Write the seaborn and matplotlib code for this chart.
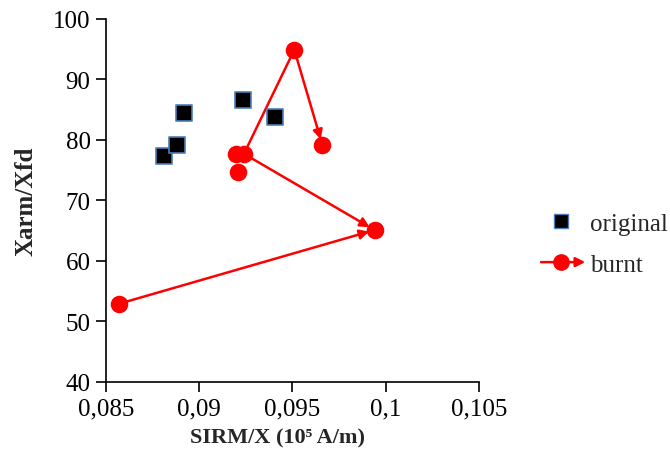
import matplotlib
matplotlib.use('Agg')
import matplotlib.pyplot as plt
import seaborn as sns
import pandas as pd
from matplotlib.lines import Line2D
from matplotlib.patches import FancyArrowPatch
from matplotlib.legend_handler import HandlerBase

# data
orig_x = [0.08811, 0.08881, 0.08918, 0.09234, 0.09406]
orig_y = [77.4, 79.2, 84.5, 86.6, 83.8]

burnt_x = [0.0857, 0.0994, 0.0924, 0.0951, 0.0966, 0.0920, 0.0921]
burnt_y = [52.9, 65.1, 77.7, 94.9, 79.2, 77.7, 74.7]
# arrows between burnt points (index from -> index to)
burnt_arrows = [(0, 1), (2, 1), (2, 3), (3, 4)]
arrow_heads = [True, True, False, True]

x_ticks = [0.085, 0.09, 0.095, 0.1, 0.105]
x_tick_labels = ['0,085', '0,09', '0,095', '0,1', '0,105']
y_ticks = [40, 50, 60, 70, 80, 90, 100]

red = '#ff0000'


class ArrowLineHandler(HandlerBase):
    """legend entry: red line, circle marker, arrow head at the right end"""
    def create_artists(self, legend, orig_handle, xdescent, ydescent,
                       width, height, fontsize, trans):
        y = height / 2 - ydescent
        arrow = FancyArrowPatch((-xdescent, y), (width - xdescent + 3, y),
                                arrowstyle='-|>', mutation_scale=14, color=red,
                                lw=1.8, shrinkA=0, shrinkB=0, transform=trans)
        dot = Line2D([width / 2 - xdescent], [y], marker='o', color=red,
                     markersize=11, lw=0, transform=trans)
        return [arrow, dot]


sns.set_style('white')
plt.rcParams['font.family'] = ['Liberation Serif', 'DejaVu Serif']

fig = plt.figure(figsize=(6.7, 4.64), dpi=100)
ax = fig.add_axes([0.158, 0.175, 0.557, 0.782])

df_orig = pd.DataFrame({'x': orig_x, 'y': orig_y})
df_burnt = pd.DataFrame({'x': burnt_x, 'y': burnt_y})

for (i, j), head in zip(burnt_arrows, arrow_heads):
    ax.annotate('', xy=(burnt_x[j], burnt_y[j]), xytext=(burnt_x[i], burnt_y[i]),
                arrowprops=dict(arrowstyle='-|>' if head else '-', color=red, lw=1.8,
                                mutation_scale=14, shrinkA=0, shrinkB=4))

sns.scatterplot(data=df_burnt, x='x', y='y', ax=ax, marker='o', s=160,
                color=red, edgecolor=red, linewidth=0, zorder=3)
sns.scatterplot(data=df_orig, x='x', y='y', ax=ax, marker='s', s=125,
                color='black', edgecolor='#4a7ebb', linewidth=1.2, zorder=4)

ax.set_xlim(0.085, 0.105)
ax.set_ylim(40, 100)
ax.set_xticks(x_ticks)
ax.set_xticklabels(x_tick_labels)
ax.set_yticks(y_ticks)
ax.tick_params(axis='both', labelsize=18, direction='out', length=7, width=1.2,
               colors='black', bottom=True, left=True, pad=4)
for side in ['top', 'right']:
    ax.spines[side].set_visible(False)
for side in ['left', 'bottom']:
    ax.spines[side].set_color('black')
    ax.spines[side].set_linewidth(1.2)

ax.set_xlabel('SIRM/X (10\u2075 A/m)', fontsize=16, fontweight='bold', labelpad=6)
ax.xaxis.label.set_x(0.46)
ax.set_ylabel('Xarm/Xfd', fontsize=18, fontweight='bold', labelpad=11)

handles = [
    Line2D([], [], marker='s', color='none', markerfacecolor='black',
           markeredgecolor='#4a7ebb', markersize=10),
    Line2D([], [], color=red),
]
fig.legend(handles, ['original', 'burnt'], loc='center left',
           bbox_to_anchor=(0.774, 0.472), frameon=False, fontsize=18,
           handlelength=1.6, labelspacing=0.75, handletextpad=0.35,
           handler_map={handles[1]: ArrowLineHandler()})

fig.savefig('out.png', dpi=100)
